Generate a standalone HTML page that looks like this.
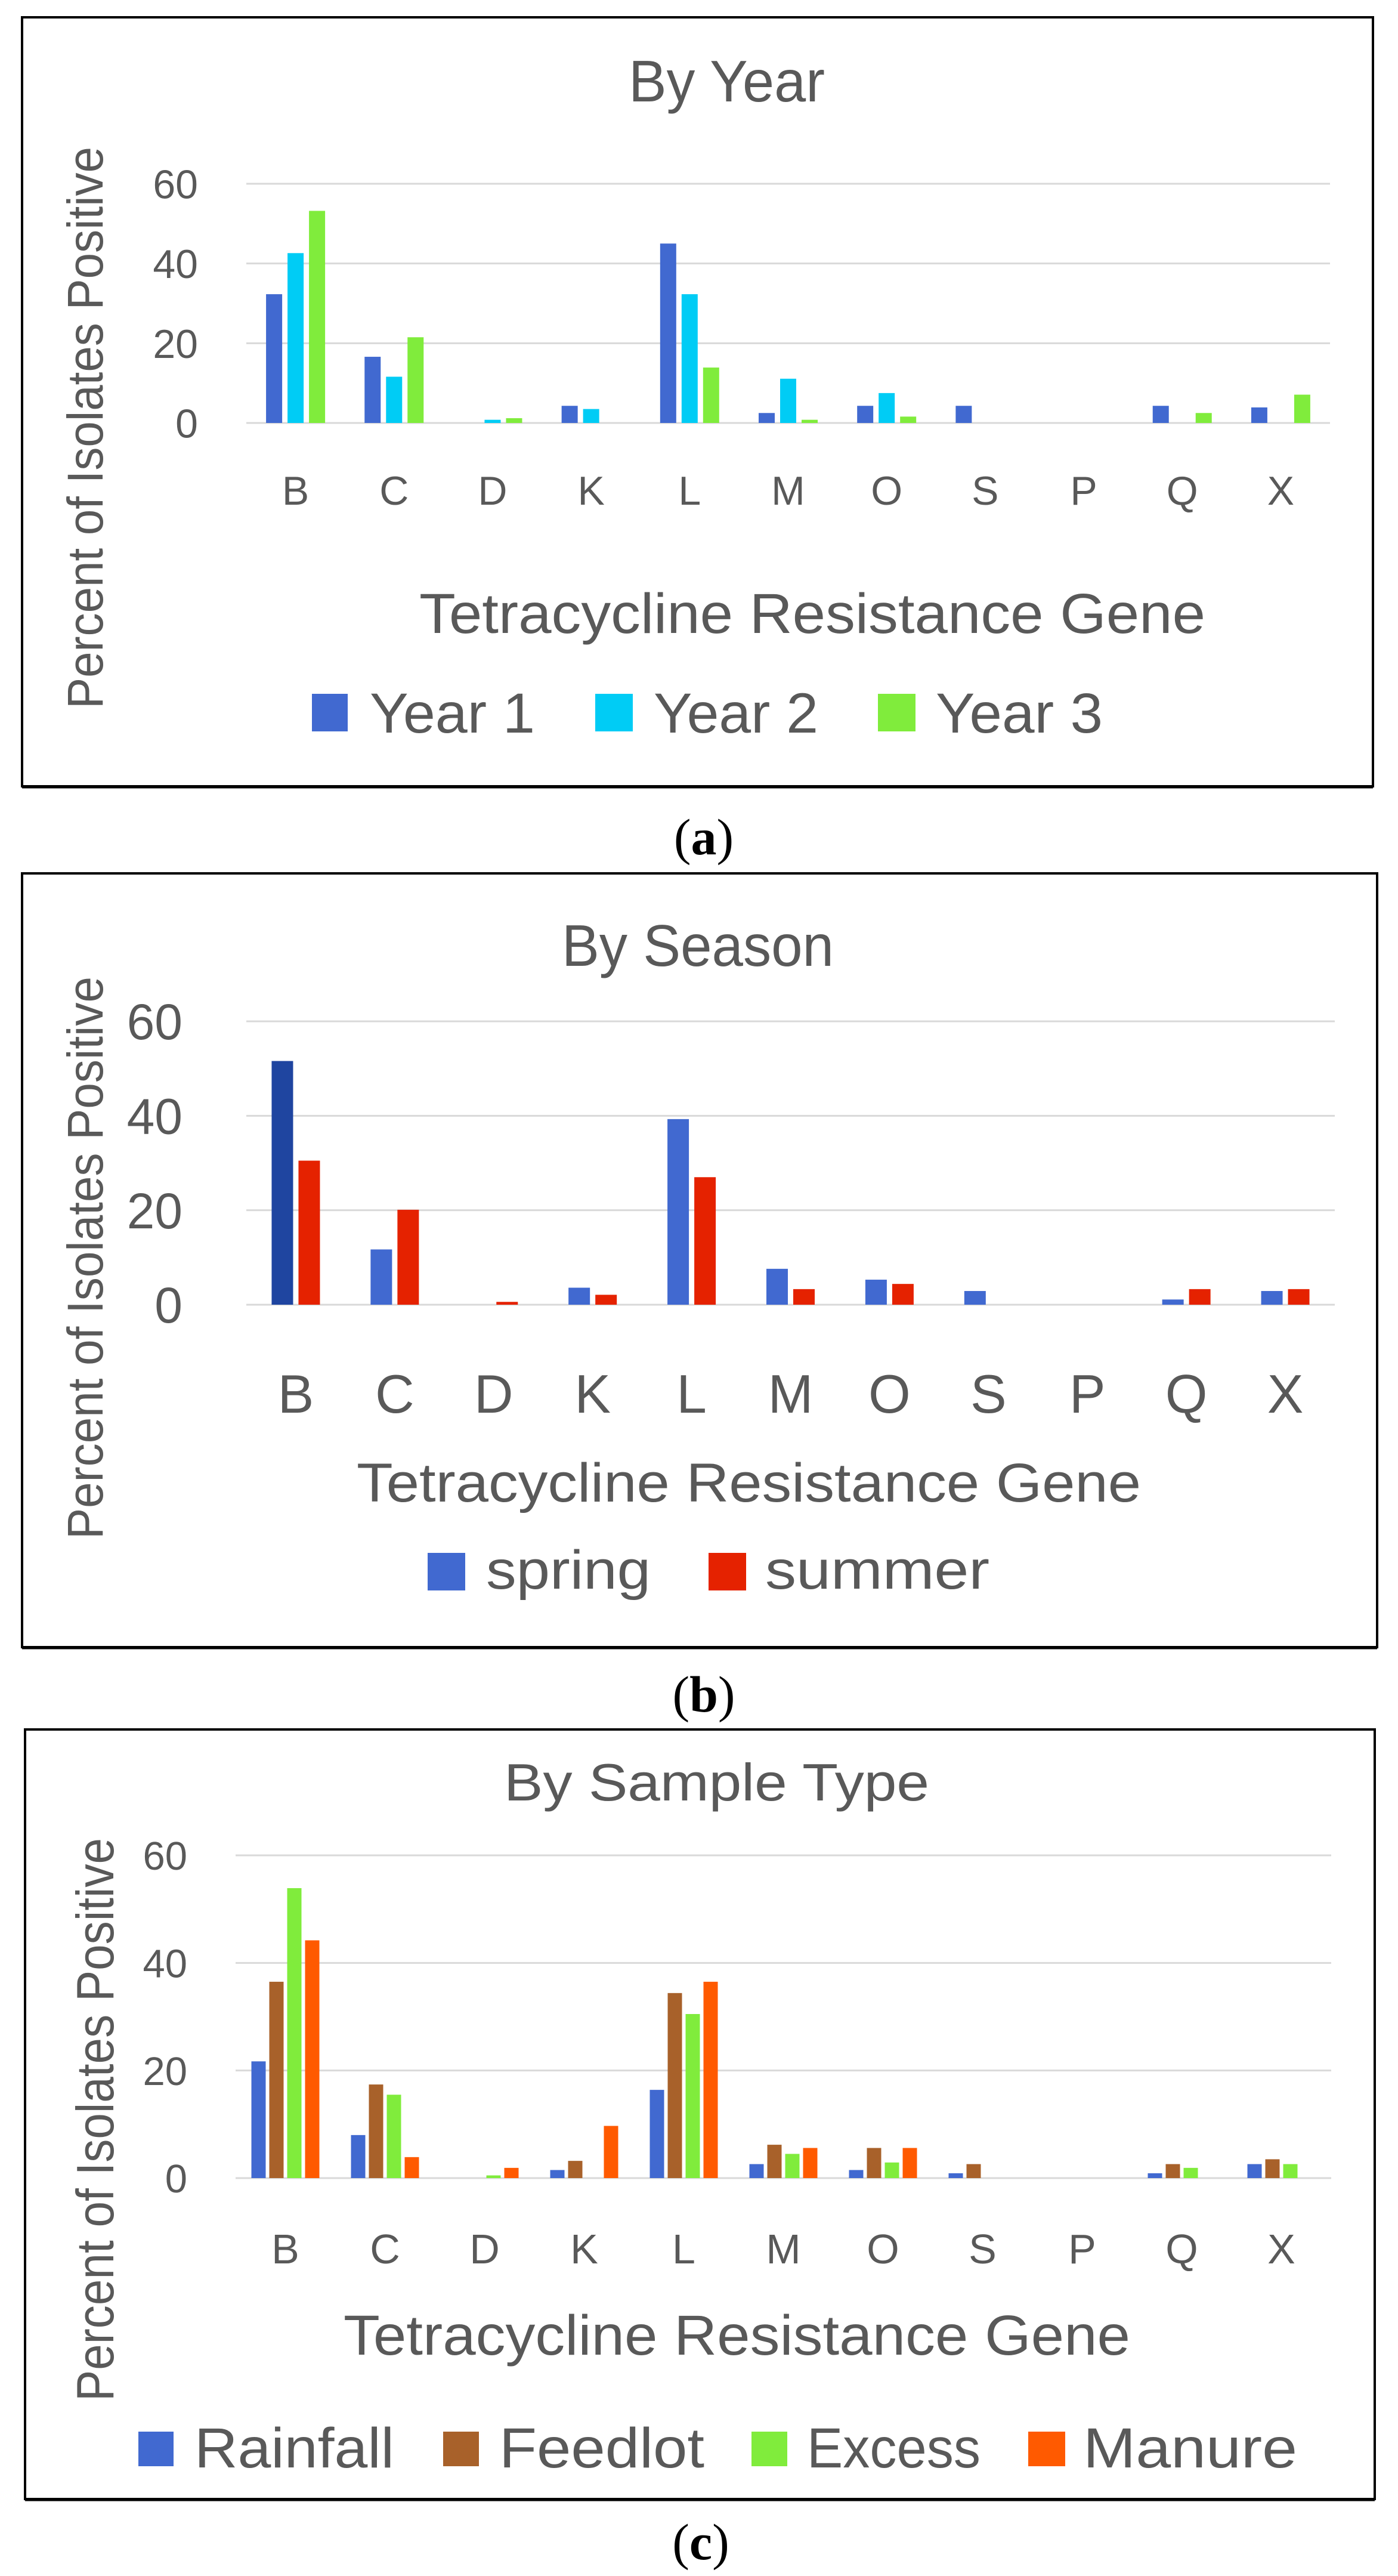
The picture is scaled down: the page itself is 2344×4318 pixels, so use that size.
<!DOCTYPE html>
<html><head><meta charset="utf-8">
<style>
html,body{margin:0;padding:0;background:#fff;}
svg{display:block;}
text{font-family:"Liberation Sans",sans-serif;fill:#595959;}
.cap{font-family:"Liberation Serif",serif;fill:#000;}
</style></head>
<body>
<svg id="fig" width="2344" height="4318" viewBox="0 0 2344 4318" xmlns="http://www.w3.org/2000/svg"></svg>
<script>
// ---- Data ----
const genes = ["B","C","D","K","L","M","O","S","P","Q","X"];
const yTicks = [0,20,40,60];

const yearNames = ["Year 1","Year 2","Year 3"];
const year1 = [32.3,16.6,0,4.3,45.0,2.5,4.3,4.3,0,4.3,3.9];
const year2 = [42.6,11.6,0.8,3.5,32.3,11.1,7.5,0,0,0,0];
const year3 = [53.2,21.5,1.2,0,13.9,0.8,1.6,0,0,2.5,7.1];

const seasonNames = ["spring","summer"];
const spring = [51.6,11.7,0,3.6,39.3,7.6,5.3,2.9,0,1.1,2.9];
const summer = [30.5,20.1,0.6,2.1,27.0,3.3,4.4,0,0,3.3,3.3];

const sampleNames = ["Rainfall","Feedlot","Excess","Manure"];
const rainfall = [21.7,8.0,0,1.5,16.4,2.6,1.5,0.9,0,0.9,2.6];
const feedlot = [36.5,17.4,0,3.2,34.4,6.2,5.6,2.6,0,2.6,3.5];
const excess = [53.9,15.5,0.5,0,30.5,4.5,2.9,0,0,1.9,2.6];
const manure = [44.2,3.9,1.9,9.7,36.5,5.6,5.6,0,0,0,0];

const NS="http://www.w3.org/2000/svg";
const svg=document.getElementById('fig');
function mk(tag,attrs,parent){const e=document.createElementNS(NS,tag);for(const k in attrs)e.setAttribute(k,attrs[k]);(parent||svg).appendChild(e);return e;}
function txt(s,attrs,parent){const e=mk('text',attrs,parent);e.textContent=s;return e;}

function panel(cfg){
  const g=mk('g',{});
  
  
  const f=cfg.frame;
  const fr=mk('rect',{x:f[0],y:f[1],width:f[2]-f[0],height:f[3]-f[1],fill:'#fff',stroke:'#000','stroke-width':4},g);
  
  
  const bl=mk('line',{x1:f[0],x2:f[2],y1:f[3]+1,y2:f[3]+1,stroke:'#000','stroke-width':5},g);
  
  
  const yScale=v=>cfg.y0-(cfg.y0-cfg.y60)*v/60;
  const cw=(cfg.x1-cfg.x0)/genes.length;
  const xCenter=i=>cfg.x0+cw*(i+0.5);
  // gridlines & ticks
  yTicks.forEach(t=>{
    const l=mk('line',{x1:cfg.x0,x2:cfg.x1,y1:yScale(t),y2:yScale(t),stroke:'#d9d9d9','stroke-width':3},g);
    
    
    const tt=txt(String(t),{x:cfg.tickX,y:yScale(t)+cfg.tickFs*0.36,'font-size':cfg.tickFs,'text-anchor':'end'},g);
    
    
  });
  // bars
  const n=cfg.series.length;
  cfg.series.forEach((s,si)=>{
    s.values.forEach((v,i)=>{
      if(v<=0)return;
      const x=xCenter(i)+(si-(n-1)/2)*cfg.step-cfg.barW/2;
      const col=(s.special&&s.special[i])?s.special[i]:s.color;
      const r=mk('rect',{x:x,y:yScale(v),width:cfg.barW,height:yScale(0)-yScale(v),fill:col},g);
      
      
    });
  });
  // x labels
  genes.forEach((gn,i)=>{
    const t=txt(gn,{x:xCenter(i),y:cfg.xlabY,'font-size':cfg.xlabFs,'text-anchor':'middle'},g);
    
    
  });
  // title
  const ti=txt(cfg.title,{x:cfg.titleX[0],y:cfg.titleY,'font-size':cfg.titleFs,textLength:cfg.titleX[1]-cfg.titleX[0],lengthAdjust:'spacingAndGlyphs'},g);
  
  
  const xt=txt('Tetracycline Resistance Gene',{x:cfg.xtX[0],y:cfg.xtY,'font-size':cfg.xtFs,textLength:cfg.xtX[1]-cfg.xtX[0],lengthAdjust:'spacingAndGlyphs'},g);
  
  
  const yt=txt('Percent of Isolates Positive',{x:0,y:0,'font-size':cfg.ytFs,textLength:cfg.ytSpan[1]-cfg.ytSpan[0],lengthAdjust:'spacingAndGlyphs',transform:'translate('+cfg.ytX+','+cfg.ytSpan[1]+') rotate(-90)'},g);
  
  
  // legend
  cfg.series.forEach((s,si)=>{
    const L=cfg.legend[si];
    const sq=mk('rect',{x:L[0],y:cfg.legY[0],width:L[1]-L[0],height:cfg.legY[1]-cfg.legY[0],fill:s.color},g);
    
    
    const lt=txt(s.name,{x:L[2],y:cfg.legTextY,'font-size':cfg.legFs,textLength:L[3]-L[2],lengthAdjust:'spacingAndGlyphs'},g);
    
    
  });
  // caption
  const cap=mk('text',{x:cfg.capX,y:cfg.capY,'font-size':86,'text-anchor':'middle',class:'cap'});
  cap.innerHTML='(<tspan font-weight="bold">'+cfg.capL+'</tspan>)';
  
  
}

panel({id:'by-year',frame:[37,29,2302,1318],x0:413,x1:2230,y0:709,y60:308,barW:27,step:36,
  tickX:332,tickFs:68,xlabY:846,xlabFs:68,title:'By Year',titleX:[1054,1383],titleY:170,titleFs:98,
  xtX:[703,2021],xtY:1061,xtFs:95,ytFs:84,ytX:172,ytSpan:[246,1188],
  series:[{name:yearNames[0],values:year1,color:'#4169D0'},{name:yearNames[1],values:year2,color:'#00CCF5'},{name:yearNames[2],values:year3,color:'#80EC3C'}],
  legend:[[523,583,620,897],[998,1061,1096,1372],[1472,1535,1569,1849]],legY:[1163,1226],legTextY:1228,legFs:95,
  capX:1180,capY:1432,capL:'a'});

panel({id:'by-season',frame:[37,1464,2309,2761],x0:413,x1:2238,y0:2187,y60:1712,barW:36,step:45,
  tickX:306,tickFs:84,xlabY:2368,xlabFs:91,title:'By Season',titleX:[942,1398],titleY:1619,titleFs:98,
  xtX:[598,1913],xtY:2517,xtFs:92,ytFs:84,ytX:172,ytSpan:[1637,2580],
  series:[{name:seasonNames[0],values:spring,color:'#4169D0',special:{0:'#1F45A0'}},{name:seasonNames[1],values:summer,color:'#E52200'}],
  legend:[[717,780,815,1091],[1188,1251,1283,1659]],legY:[2603,2666],legTextY:2663,legFs:92,
  capX:1180,capY:2869,capL:'b'});

panel({id:'by-sample-type',frame:[42,2899,2305,4189],x0:395,x1:2232,y0:3651,y60:3110,barW:24,step:30,
  tickX:314,tickFs:67,xlabY:3794,xlabFs:70,title:'By Sample Type',titleX:[845,1558],titleY:3018,titleFs:88,
  xtX:[576,1895],xtY:3947,xtFs:95,ytFs:88,ytX:190,ytSpan:[3081,4025],
  series:[{name:sampleNames[0],values:rainfall,color:'#4169D0'},{name:sampleNames[1],values:feedlot,color:'#A8612A'},{name:sampleNames[2],values:excess,color:'#80EC3C'},{name:sampleNames[3],values:manure,color:'#FF5A00'}],
  legend:[[232,291,326,661],[743,803,837,1181],[1260,1320,1353,1644],[1724,1786,1816,2175]],legY:[4076,4134],legTextY:4136,legFs:95,
  capX:1175,capY:4290,capL:'c'});
</script>
</body></html>
